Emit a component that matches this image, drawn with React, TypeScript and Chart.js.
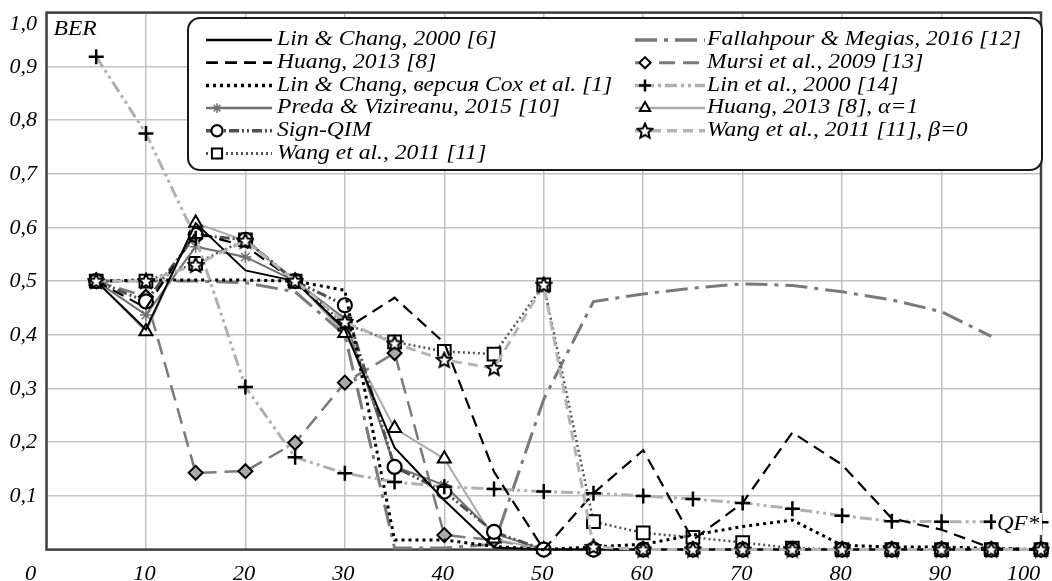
import React, { useEffect, useRef } from 'react';
import { Chart, registerables } from 'chart.js';
import { drawPoint } from 'chart.js/helpers';

Chart.register(...registerables);

// ---------- data ----------
const qf = [5, 10, 15, 20, 25, 30, 35, 40, 45, 50, 55, 60, 65, 70, 75, 80, 85, 90, 95, 100];

const linChang2000 = [0.5, 0.41, 0.608, 0.52, 0.5, 0.41, 0.19, 0.092, 0.004, 0, 0, 0, 0, 0, 0, 0, 0, 0, 0, 0];
const huang2013 = [0.5, 0.45, 0.59, 0.565, 0.5, 0.41, 0.469, 0.385, 0.145, 0, 0.105, 0.185, 0.018, 0.087, 0.218, 0.158, 0.058, 0.037, 0.003, 0];
const linChangCox = [0.5, 0.502, 0.502, 0.502, 0.5, 0.483, 0.018, 0.018, 0.006, 0, 0.005, 0.01, 0.027, 0.043, 0.055, 0.008, 0.005, 0.005, 0.002, 0];
const preda2015 = [0.5, 0.437, 0.564, 0.545, 0.5, 0.43, 0.155, 0.12, 0.03, 0, 0, 0, 0, 0, 0, 0, 0, 0, 0, 0];
const signQim = [0.5, 0.462, 0.586, 0.577, 0.5, 0.455, 0.154, 0.108, 0.033, 0, 0, 0, 0, 0, 0, 0, 0, 0, 0, 0];
const wang2011 = [0.5, 0.5, 0.533, 0.577, 0.5, 0.42, 0.387, 0.369, 0.364, 0.493, 0.052, 0.031, 0.023, 0.013, 0.003, 0, 0, 0, 0, 0];
const fallahpour2016 = [0.5, 0.5, 0.5, 0.497, 0.48, 0.4, 0.003, 0.003, 0.01, 0.28, 0.462, 0.476, 0.487, 0.495, 0.492, 0.48, 0.465, 0.443, 0.397, null];
const mursi2009 = [0.5, 0.471, 0.143, 0.146, 0.199, 0.311, 0.366, 0.027, 0.018, 0, 0, 0, 0, 0, 0, 0, 0, 0, 0, 0];
const linEtAl2000 = [0.918, 0.775, 0.58, 0.303, 0.172, 0.142, 0.126, 0.117, 0.113, 0.108, 0.105, 0.1, 0.094, 0.087, 0.076, 0.063, 0.053, 0.052, 0.052, 0.051];
const huangAlpha1 = [0.5, 0.406, 0.608, 0.575, 0.5, 0.403, 0.226, 0.169, 0.02, 0, 0, 0, 0, 0, 0, 0, 0, 0, 0, 0];
const wangBeta0 = [0.5, 0.5, 0.53, 0.575, 0.5, 0.424, 0.384, 0.353, 0.338, 0.493, 0.005, 0, 0, 0, 0, 0, 0, 0, 0, 0];

const seriesNames = [
  'Lin & Chang, 2000 [6]',
  'Huang, 2013 [8]',
  'Lin & Chang, версия Cox et al. [1]',
  'Preda & Vizireanu, 2015 [10]',
  'Sign-QIM',
  'Wang et al., 2011 [11]',
  'Fallahpour & Megias, 2016 [12]',
  'Mursi et al., 2009 [13]',
  'Lin et al., 2000 [14]',
  'Huang, 2013 [8], α=1',
  'Wang et al., 2011 [11], β=0',
];

const xTickValues = [0, 10, 20, 30, 40, 50, 60, 70, 80, 90, 100];
const xTickLabels = ['0', '10', '20', '30', '40', '50', '60', '70', '80', '90', '100'];
const yTickValues = [0.1, 0.2, 0.3, 0.4, 0.5, 0.6, 0.7, 0.8, 0.9, 1.0];
const yTickLabels = ['0,1', '0,2', '0,3', '0,4', '0,5', '0,6', '0,7', '0,8', '0,9', '1,0'];
const yAxisTitle = 'BER';
const xAxisTitle = 'QF*';

const FAMILY = '"Liberation Serif", Tinos, "Times New Roman", Times, serif';
const FONT = 'italic 20px ' + FAMILY;

function makeStar(): HTMLCanvasElement {
  const c = document.createElement('canvas');
  c.width = 18;
  c.height = 18;
  const g = c.getContext('2d')!;
  g.beginPath();
  for (let i = 0; i < 10; i++) {
    const r = i % 2 === 0 ? 7.8 : 3.6;
    const a = -Math.PI / 2 + (i * Math.PI) / 5;
    const px = 9 + r * Math.cos(a);
    const py = 9.5 + r * Math.sin(a);
    if (i === 0) g.moveTo(px, py);
    else g.lineTo(px, py);
  }
  g.closePath();
  g.fillStyle = '#fff';
  g.fill();
  g.lineWidth = 2;
  g.strokeStyle = '#000';
  g.stroke();
  return c;
}

function sText(ctx: CanvasRenderingContext2D, text: string, x: number, y: number, sx: number, align: CanvasTextAlign) {
  ctx.save();
  ctx.translate(x, y);
  ctx.scale(sx, 1);
  ctx.textAlign = align;
  ctx.textBaseline = 'middle';
  ctx.fillText(text, 0, 0);
  ctx.restore();
}

export default function App() {
  const ref = useRef<HTMLCanvasElement>(null);

  useEffect(() => {
    const star = makeStar();
    const pts = (arr: (number | null)[]) =>
      qf.map((x, i) => ({ x, y: arr[i] })).filter((p) => p.y !== null);

    const styles: any[] = [
      { color: '#000', width: 2, dash: [], marker: null },
      { color: '#000', width: 2.2, dash: [12, 7], marker: null },
      { color: '#000', width: 3, dash: [3, 4], marker: null },
      { color: '#707070', width: 2, dash: [], marker: { style: 'star', r: 6, border: '#707070', fill: '#fff', bw: 1.5 } },
      { color: '#505050', width: 3, dash: [10, 3, 2, 3, 2, 3], marker: { style: 'circle', r: 7, border: '#000', fill: '#fff', bw: 2.2 } },
      { color: '#555', width: 2.5, dash: [2, 3], marker: { style: 'rect', r: 9, border: '#000', fill: '#fff', bw: 2 } },
      { color: '#7a7a7a', width: 3, dash: [22, 7, 4, 7], marker: null },
      { color: '#7a7a7a', width: 2.5, dash: [16, 8], marker: { style: 'rectRot', r: 7, border: '#000', fill: '#aaa', bw: 2 } },
      { color: '#b0b0b0', width: 3, dash: [12, 4, 3, 4, 3, 4], marker: { style: 'cross', r: 7.5, border: '#000', fill: '#000', bw: 2.5 } },
      { color: '#ababab', width: 2, dash: [], marker: { style: 'triangle', r: 7.5, border: '#000', fill: '#fff', bw: 2 } },
      { color: '#b5b5b5', width: 3, dash: [10, 6], marker: { style: star, r: 8, border: '#000', fill: '#fff', bw: 2 } },
    ];
    const drawOrder = [0, 1, 2, 3, 2, 3, 4, 3, 1, 2, -1];
    const allData = [
      linChang2000, huang2013, linChangCox, preda2015, signQim, wang2011,
      fallahpour2016, mursi2009, linEtAl2000, huangAlpha1, wangBeta0,
    ];

    const datasets = allData.map((arr, i) => {
      const s = styles[i];
      return {
        label: seriesNames[i],
        data: pts(arr),
        order: drawOrder[i],
        borderColor: s.color,
        borderWidth: s.width,
        borderDash: s.dash,
        borderCapStyle: 'butt',
        fill: false,
        tension: 0,
        clip: false,
        pointStyle: s.marker ? s.marker.style : 'circle',
        pointRadius: s.marker ? s.marker.r : 0,
        pointBorderColor: s.marker ? s.marker.border : s.color,
        pointBackgroundColor: s.marker ? s.marker.fill : s.color,
        pointBorderWidth: s.marker ? s.marker.bw : 0,
      };
    });

    const decor = {
      id: 'decor',
      beforeDatasetsDraw(chart: any) {
        const { ctx, chartArea: a } = chart;
        ctx.save();
        ctx.strokeStyle = '#404040';
        ctx.lineWidth = 2.5;
        ctx.strokeRect(a.left, a.top, a.right - a.left, a.bottom - a.top);
        ctx.restore();
      },
      afterDraw(chart: any) {
        const { ctx, chartArea: a } = chart;
        const xs = chart.scales.x;
        const ys = chart.scales.y;
        ctx.save();
        ctx.fillStyle = '#000';
        ctx.font = FONT;
        yTickValues.forEach((v, i) => {
          let y = ys.getPixelForValue(v) + 1;
          if (i === yTickValues.length - 1) y = ys.getPixelForValue(v) + 12;
          sText(ctx, yTickLabels[i], 37, y, 1.1, 'right');
        });
        xTickValues.forEach((v, i) => {
          let x = xs.getPixelForValue(v) - 1.5;
          if (i === 0) x = xs.getPixelForValue(v) - 16;
          if (i === xTickValues.length - 1) x = xs.getPixelForValue(v) - 17.5;
          sText(ctx, xTickLabels[i], x, 574.5, 1.12, 'center');
        });
        sText(ctx, yAxisTitle, a.left + 7, a.top + 17, 1.18, 'left');
        ctx.fillStyle = '#fff';
        ctx.fillRect(996, 513, 46, 22);
        ctx.fillStyle = '#000';
        sText(ctx, xAxisTitle, 997, 525, 1.15, 'left');

        // legend
        const bx = 188, by = 18, bw = 854, bh = 152, rr = 12;
        ctx.beginPath();
        ctx.moveTo(bx + rr, by);
        ctx.arcTo(bx + bw, by, bx + bw, by + bh, rr);
        ctx.arcTo(bx + bw, by + bh, bx, by + bh, rr);
        ctx.arcTo(bx, by + bh, bx, by, rr);
        ctx.arcTo(bx, by, bx + bw, by, rr);
        ctx.closePath();
        ctx.fillStyle = '#fff';
        ctx.fill();
        ctx.lineWidth = 2;
        ctx.strokeStyle = '#1a1a1a';
        ctx.stroke();

        seriesNames.forEach((name, i) => {
          const col = i < 6 ? 0 : 1;
          const row = col === 0 ? i : i - 6;
          const y = 40 + row * 22.7;
          const x0 = col === 0 ? 206 : 635;
          const x1 = col === 0 ? 272 : 705;
          const tx = col === 0 ? 277 : 707;
          const mx = col === 0 ? 217 : 645;
          const s = styles[i];
          ctx.save();
          ctx.strokeStyle = s.color;
          ctx.lineWidth = s.width + 0.5;
          ctx.setLineDash(s.dash);
          ctx.lineCap = 'butt';
          ctx.beginPath();
          ctx.moveTo(x0, y);
          ctx.lineTo(x1, y);
          ctx.stroke();
          ctx.restore();
          if (s.marker) {
            ctx.save();
            ctx.strokeStyle = s.marker.border;
            ctx.fillStyle = '#fff';
            ctx.lineWidth = s.marker.bw;
            drawPoint(ctx, { pointStyle: s.marker.style, radius: s.marker.r * 0.8, rotation: 0, borderWidth: s.marker.bw } as any, mx, y);
            ctx.restore();
          }
          ctx.fillStyle = '#000';
          ctx.font = FONT;
          sText(ctx, name, tx, y, 1.18, 'left');
        });
        ctx.restore();
      },
    };

    const chart = new Chart(ref.current!, {
      type: 'line',
      data: { datasets: datasets as any },
      options: {
        responsive: false,
        animation: false,
        events: [],
        layout: { padding: { left: 46.5, right: 3, top: 12.6, bottom: 31.4 } },
        plugins: { legend: { display: false }, tooltip: { enabled: false } },
        scales: {
          x: {
            type: 'linear',
            min: 0,
            max: 100,
            ticks: { stepSize: 10, display: false },
            grid: { color: '#c2c2c2', lineWidth: 1.5, drawTicks: false },
            border: { display: false },
            afterFit: (s: any) => { s.height = 0; },
          },
          y: {
            type: 'linear',
            min: 0,
            max: 1,
            ticks: { stepSize: 0.1, display: false },
            grid: { color: '#c2c2c2', lineWidth: 1.5, drawTicks: false },
            border: { display: false },
            afterFit: (s: any) => { s.width = 0; },
          },
        },
      },
      plugins: [decor],
    });
    let alive = true;
    const fonts = (document as any).fonts;
    if (fonts && fonts.load) {
      Promise.all([
        fonts.load('italic 20px "Liberation Serif"', 'Lin0,9α'),
        fonts.load('20px "Liberation Serif"', 'Lin0,9α'),
      ]).then(() => { if (alive) chart.draw(); }).catch(() => {});
    }
    return () => { alive = false; chart.destroy(); };
  }, []);

  return (
    <div style={{ position: 'absolute', left: 0, top: 0, width: 1052, height: 581, background: '#fff' }}>
      <canvas ref={ref} width={1052} height={581} style={{ display: 'block' }} />
    </div>
  );
}
